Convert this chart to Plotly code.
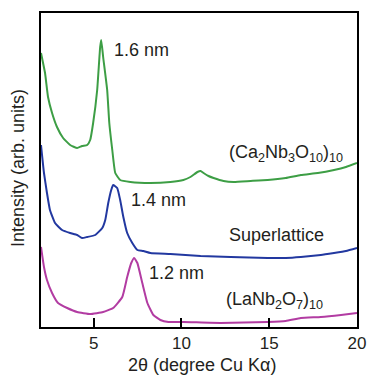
import plotly.graph_objects as go

# 2-theta positions (degree, Cu K-alpha) and intensities (arb. units, offset for stacking)
ca_x = [2.00, 2.23, 2.40, 2.63, 2.91, 3.26, 3.66, 4.06, 4.34, 4.63, 4.80, 4.97, 5.20,
        5.37, 5.43, 5.54, 5.77, 5.89, 6.06, 6.23, 6.51, 7.09, 8.23, 9.37, 10.11, 10.51,
        10.91, 11.09, 11.26, 11.54, 11.83, 12.40, 12.97, 13.94, 14.91, 15.94, 16.80,
        17.77, 18.69, 19.37, 20.00]
ca_y = [274, 254, 230, 214, 200, 189, 182, 179, 181, 182, 187, 204, 237,
        280, 287, 270, 237, 204, 177, 154, 147, 145, 144, 145, 147, 150,
        155, 156, 154, 151, 149, 146, 145, 146, 147, 149, 152,
        154, 157, 160, 164]

sl_x = [2.00, 2.17, 2.34, 2.51, 2.80, 3.20, 3.66, 4.06, 4.34, 4.63, 5.09, 5.49, 5.66,
        5.83, 6.00, 6.11, 6.34, 6.51, 6.69, 6.91, 7.20, 7.49, 7.83, 8.23, 9.37, 11.09,
        12.80, 14.91, 15.94, 16.80, 17.94, 18.69, 19.37, 20.00]
sl_y = [182, 154, 134, 117, 104, 97, 94, 92, 89, 90, 92, 99, 107,
        124, 137, 142, 139, 127, 110, 94, 84, 77, 76, 74, 73, 71,
        70, 69, 69, 70, 72, 74, 76, 79]

la_x = [2.00, 2.17, 2.34, 2.63, 2.97, 3.49, 4.06, 4.80, 5.54, 6.11, 6.63, 6.91, 7.14,
        7.31, 7.49, 7.77, 8.06, 8.40, 8.80, 9.26, 10.11, 12.23, 14.91, 15.94, 16.80,
        17.94, 19.09, 20.00]
la_y = [80, 60, 47, 34, 24, 19, 15, 13, 15, 19, 30, 50, 64,
        69, 64, 44, 24, 12, 7, 5, 5, 4, 5, 6, 9,
        10, 12, 14]

x_ticks = [5, 10, 15, 20]

FONT = "Liberation Sans, Arial, sans-serif"
TXT = "#231f20"

fig = go.Figure()
for xs, ys, col in [(ca_x, ca_y, "#3d9e45"), (sl_x, sl_y, "#2238a0"), (la_x, la_y, "#b23ca2")]:
    fig.add_trace(go.Scatter(x=xs, y=ys, mode="lines",
                             line=dict(color=col, width=2, shape="spline", smoothing=0.4)))

labels = [
    (6.06, 277, "1.6 nm"),
    (12.57, 174, "(Ca<sub>2</sub>Nb<sub>3</sub>O<sub>10</sub>)<sub>10</sub>"),
    (7.03, 127, "1.4 nm"),
    (12.57, 92, "Superlattice"),
    (8.06, 54, "1.2 nm"),
    (12.40, 27, "(LaNb<sub>2</sub>O<sub>7</sub>)<sub>10</sub>"),
]
for lx, ly, t in labels:
    fig.add_annotation(x=lx, y=ly, text=t, showarrow=False, xanchor="left",
                       yanchor="middle", font=dict(size=18, color=TXT, family=FONT))

fig.add_annotation(xref="paper", yref="paper", x=0, y=0.506, xshift=-23,
                   text="Intensity (arb. units)", textangle=-90, showarrow=False,
                   xanchor="center", yanchor="middle",
                   font=dict(size=18, color=TXT, family=FONT))
fig.add_annotation(xref="paper", yref="paper", x=0.51, y=0, yshift=-38,
                   text="2θ (degree Cu Kα)", showarrow=False,
                   xanchor="center", yanchor="middle",
                   font=dict(size=18, color=TXT, family=FONT))

fig.update_layout(
    template="none",
    width=368, height=377,
    margin=dict(l=41, r=11, t=13, b=50, autoexpand=False),
    paper_bgcolor="white", plot_bgcolor="white",
    showlegend=False,
    font=dict(family=FONT, color=TXT),
)
fig.update_xaxes(range=[2, 20], tickvals=x_ticks, ticks="inside", ticklen=9,
                 tickwidth=1.5, tickcolor="black", showline=True, linecolor="black",
                 linewidth=1.5, mirror=True, showgrid=False, zeroline=False,
                 automargin=False,
                 tickfont=dict(size=17, color=TXT, family=FONT))
fig.update_yaxes(range=[0, 314], showticklabels=False, ticks="", showline=True,
                 linecolor="black", linewidth=1.5, mirror=True, showgrid=False,
                 zeroline=False, automargin=False)

fig.write_html("out.html")
